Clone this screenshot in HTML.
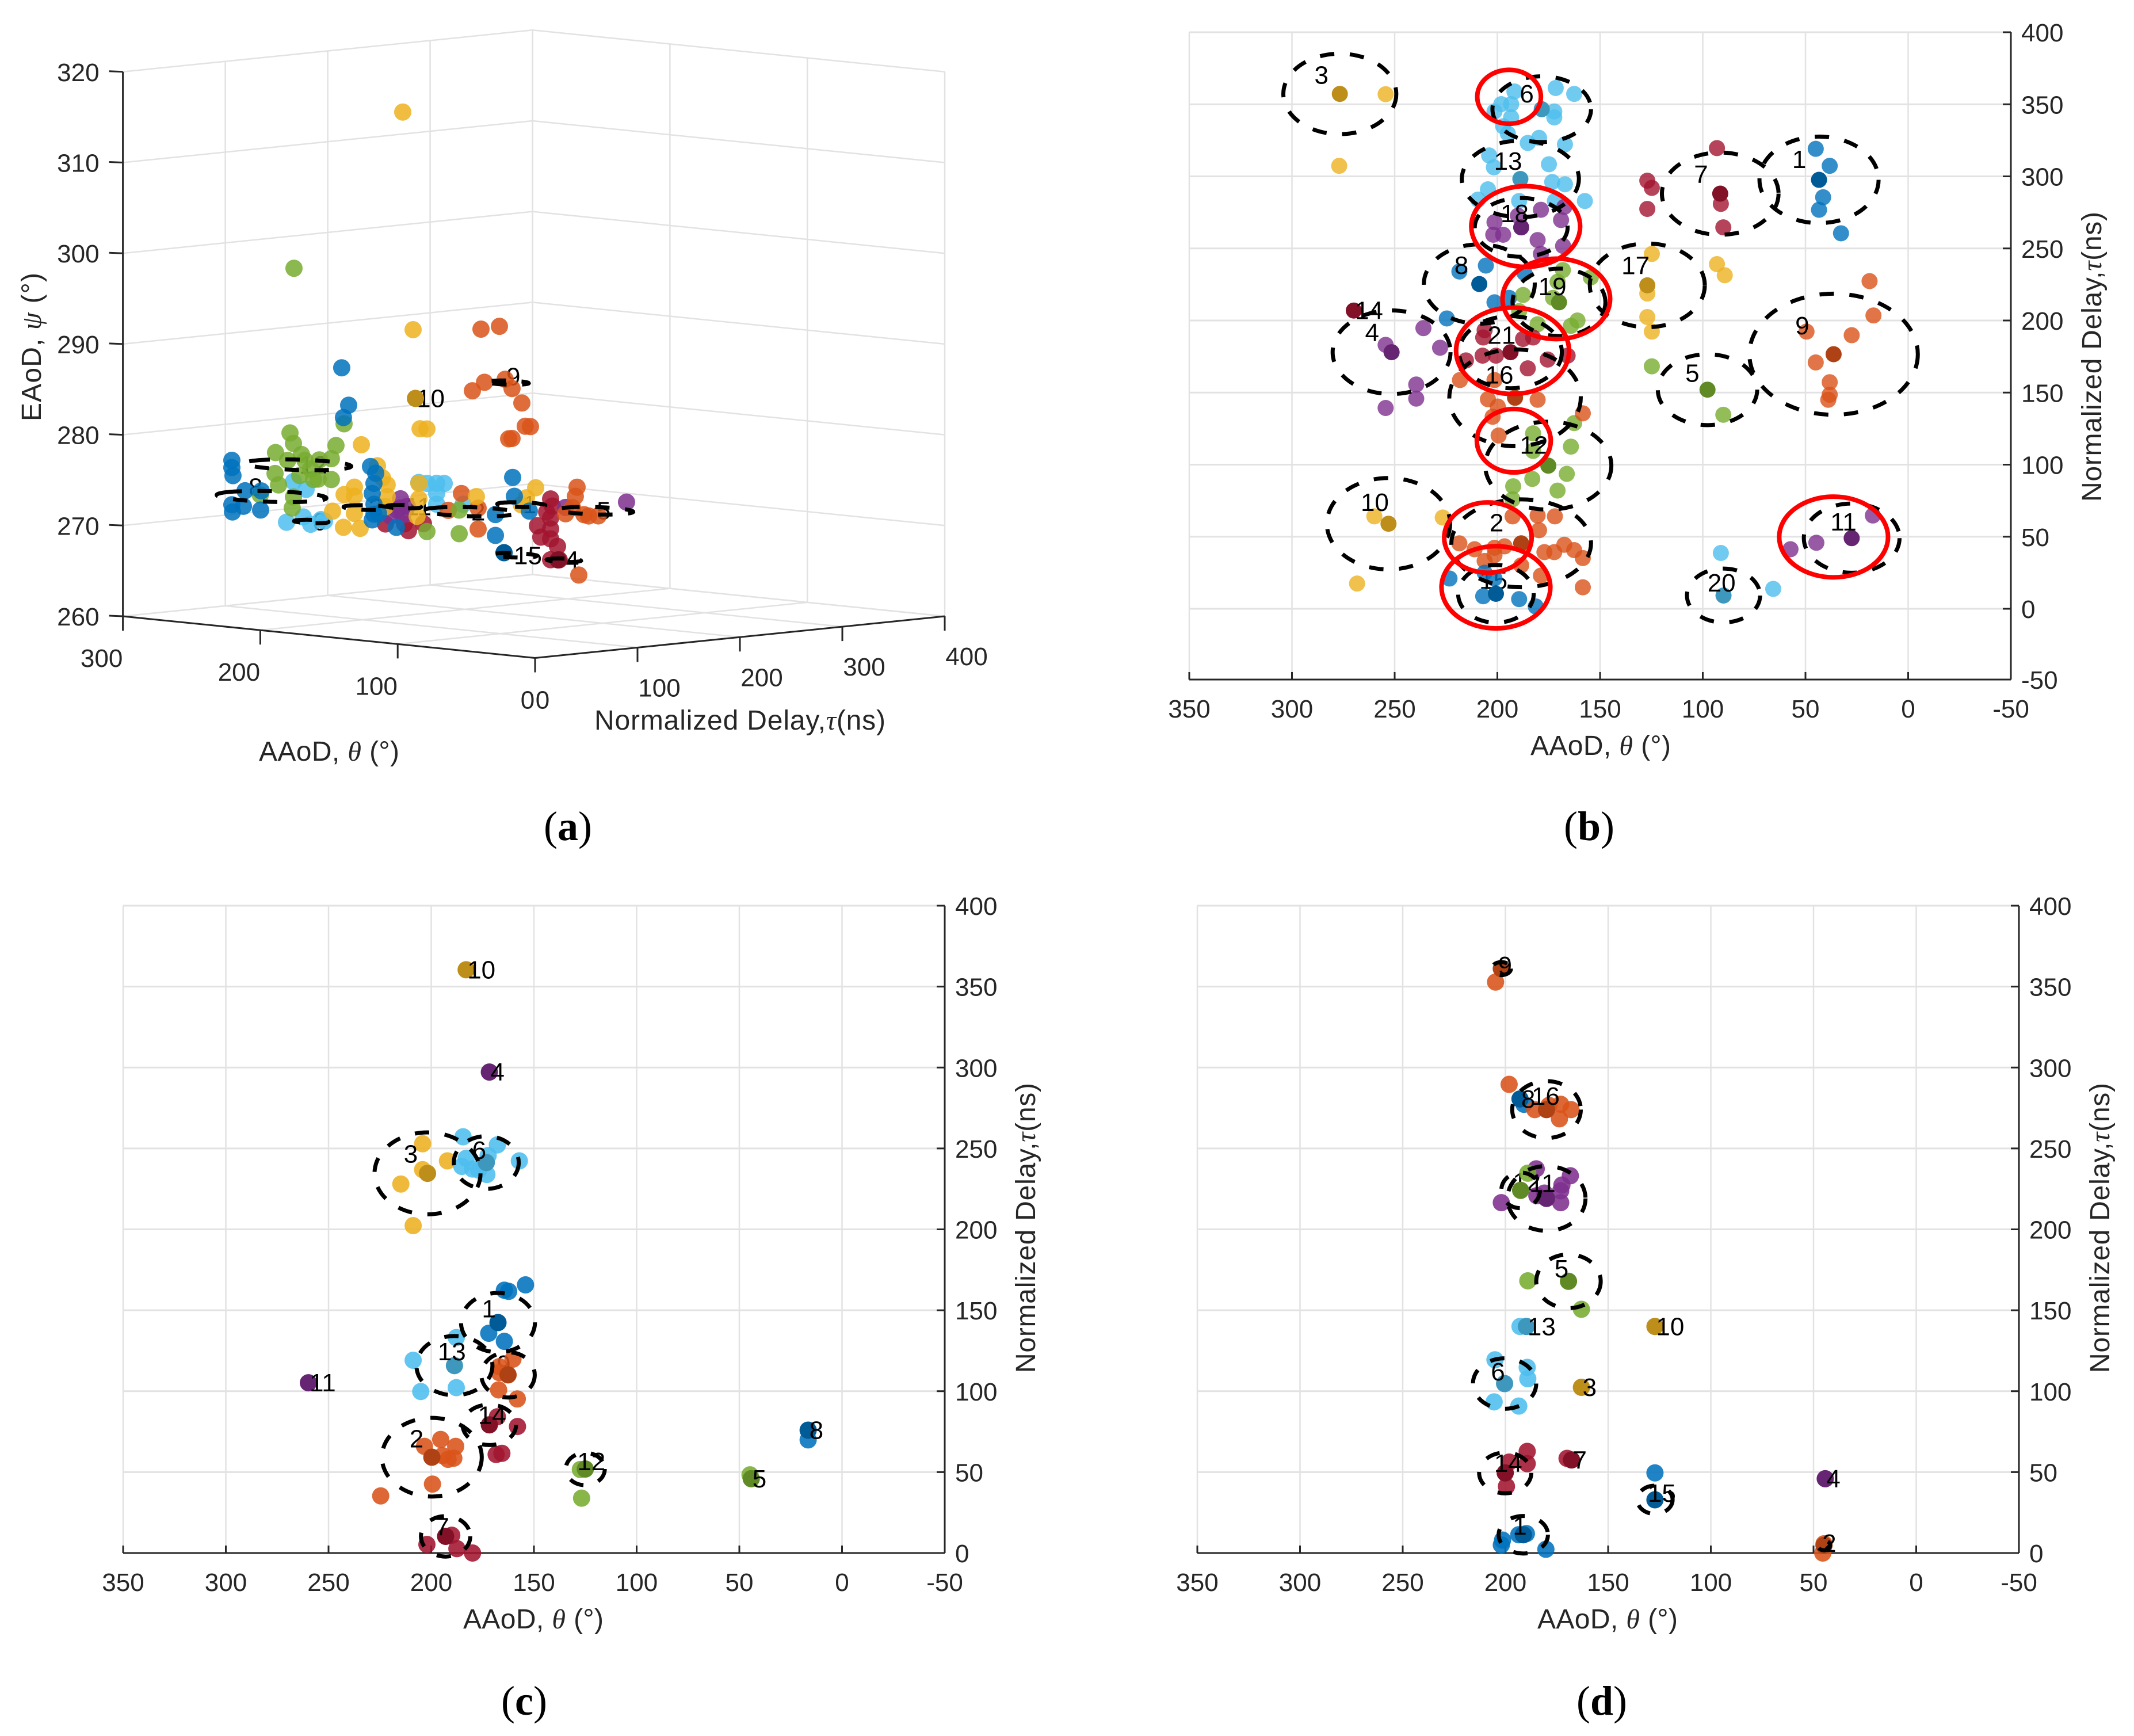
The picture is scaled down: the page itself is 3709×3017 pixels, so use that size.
<!DOCTYPE html>
<html lang="en">
<head>
<meta charset="utf-8">
<title>AAoD, EAoD and normalized delay clusters</title>
<style>
html,body{margin:0;padding:0;background:#fff;}
svg{display:block;font-family:"Liberation Sans",Arial,sans-serif;}
.cap{font-family:"Liberation Serif",serif;font-size:72px;fill:#000;text-anchor:middle;}
</style>
</head>
<body>
<svg id="chart" xmlns="http://www.w3.org/2000/svg" width="3709" height="3017" viewBox="0 0 3709 3017">
<rect x="0" y="0" width="3709" height="3017" fill="#fff"/>
<text class="cap" x="987" y="1460">(<tspan font-weight="bold">a</tspan>)</text>
<text class="cap" x="2762" y="1460">(<tspan font-weight="bold">b</tspan>)</text>
<text class="cap" x="911" y="2980">(<tspan font-weight="bold">c</tspan>)</text>
<text class="cap" x="2784" y="2980">(<tspan font-weight="bold">d</tspan>)</text>
</svg>
<script>
/* ---------- shared tick labels ---------- */
const thetaTicks = [350,300,250,200,150,100,50,0,-50];
const tauTicksB = [400,350,300,250,200,150,100,50,0,-50];
const tauTicksCD = [400,350,300,250,200,150,100,50,0];
const aThetaTicks = [300,200,100,0];
const aTauTicks = [0,100,200,300,400];
const aPsiTicks = [260,270,280,290,300,310,320];

/* ---------- panel (b) ---------- */
const bIds = [1,2,3,4,5,6,7,8,9,10,11,12,13,14,15,16,17,18,19,20,21];
const bLabelBehind = [15];
const bCenterTheta = [43.4,188.4,276.7,251.5,97.7,178.4,91.5,208.8,36.3,253,27.5,175.2,188.8,269.9,200.7,191.4,127,188.4,170,89.9,193.6];
const bCenterTau = [297.6,45.4,357.2,178,152,346.6,288,225.3,176.6,59,49,99.3,298.2,206.9,10.4,146.4,224.4,264.6,212.6,9.2,178];
const bRadTheta = [29,34,27.5,28.7,24.2,24,28.4,27,41,30,23.3,30.7,28.5,0,18.4,32,28,22.6,22.6,17.8,25];
const bRadTau = [30,30.5,27.9,29,24.6,22.8,28.5,27.5,42,31.7,24,30.5,26.5,0,20,33.6,29,20.4,23.4,18.7,25];
const bMemberTheta = [
 [45,38.2,41.4,43.4,32.7],
 [192.6,180.4,172,179.7,218.5,211.1,201.4,196.5,167.4,177.1,172.3,162.6,158.4,201.4,206.2,188.4,178.8,158.4],
 [254.4,277],
 [236,254.4,227.9,239.5,239.5,254.4],
 [124.8,90],
 [171.6,162.6,191.7,198.1,193.3,201.4,172.3,172.3,193.3,197.2,194.9,179.7,185.2,167.1],
 [93.1,127,124.8,127,91.2,90],
 [218.5,205.6,186.8,201.4,194.3,224.6],
 [18.8,16.9,49.5,27.5,45,38.2,38.2,38.9],
 [259.9,226.6,268.3],
 [17.2,44.7,57.3],
 [162.6,182.6,164.2,182.6,166.2,183,192.3,170.7,192.6],
 [204,201.7,174.9,173.3,167.1,204.6,209.4,172,189.4,157.4],
 [],
 [223.3,206.2,201.4,206.9,189.4,181.3],
 [218.2,201.4,204.6,180.4,199.8,202.3,158.4,199.4],
 [124.8,93.1,89.3,127,127,124.8],
 [178.8,167.4,190,201.4,169,202,197.2,180.4,168,178.8],
 [168.1,170.7,154.5,187.5,172.9,189.4,180.4,161,164.2],
 [91.2,65.7],
 [206.2,206.9,187.5,182.6,215.3,207.2,200.7,185.2,175.5,165.8]
];
const bMemberTau = [
 [319.1,307.3,285.5,276.8,260.5],
 [64.1,64.7,64.1,54.5,45.4,41.3,42.3,43.3,44.4,39.3,39.3,40.7,35.2,37.2,33.2,30.1,23,14.9],
 [357,307.3],
 [194.7,183.1,181.1,155.6,145.8,139.3],
 [168.2,134.6],
 [361.3,357.2,358.9,350.1,350.1,345,345,340.9,340.9,334.8,329.7,326.7,323.2,322.2],
 [319.6,297,292,277.4,280.9,264.6],
 [234,238.1,233,212.6,215.7,201.4],
 [227.3,203.5,192.3,189.8,170.9,157.2,148.5,145],
 [64.1,63.3,17.5],
 [64.7,45.8,41.3],
 [128.8,121.7,112.5,109.5,93.6,90.1,85,82,75.9],
 [314.5,306.3,308.4,296.1,294.5,291,283.9,282.9,282.9,282.9],
 [],
 [21,25,21,8.7,6.7,1.6],
 [158.7,158.7,145.4,145,140.3,133.2,135.6,120.2],
 [246.2,239.1,231.4,218.7,202.4,192.3],
 [276.8,278.8,272.7,268.2,269.7,259.5,259.5,255.8,251.7,246.2],
 [235,226.9,229.9,217.7,215.7,206.5,197.4,200,196.3],
 [38.7,13.8],
 [193.3,188.2,187.2,188.2,172.3,175.6,175.6,166.8,172.9,175.6]
];
const bRedTheta = [194.3,186.2,171.3,192.6,192,204.6,200.7,36.3];
const bRedTau = [355.2,265.2,215,179,116.6,49.4,14.9,49.8];
const bRedRadTheta = [15.5,26.5,26.2,27.5,18,21.3,26.5,26.5];
const bRedRadTau = [18.7,28,27.9,30,22,24.4,28.5,28];

/* ---------- panel (c) ---------- */
const cIds = [1,2,3,4,5,6,7,8,9,10,11,12,13,14];
const cLabelBehind = [9];
const cCenterTheta = [167.5,199.7,201.8,171.7,44.2,173.2,193,16.5,162.6,183,259.8,125,188.7,171.7];
const cCenterTau = [142.4,59.2,234.6,297.2,45.9,241.3,10.3,75.9,110.1,360.4,105.2,51.9,115.8,79.2];
const cRadTheta = [18,24.3,25.8,0,0,15.8,12,0,13,0,0,9.5,18.5,13];
const cRadTau = [18.3,24.3,25.3,0,0,16.3,12.5,0,14,0,0,10,18.3,12.5];
const cMemberTheta = [
 [154.1,164.4,162.3,172,164.4],
 [195.4,203.3,188.1,194.5,189,191.8,199.4,224.6],
 [204.2,192.1,204.2,214.8,208.8],
 [],
 [44.8],
 [184.5,167.8,172.3,157.1,172.9,183,185.1,179.9,176.9],
 [190,202.1,187.5,179.9],
 [16.5],
 [166.9,166.9,160.2,167.2,158.1],
 [],
 [],
 [127.4,126.8],
 [187.8,208.8,187.8,205.1],
 [167.8,158,168.4,165.6]
];
const cMemberTau = [
 [165.7,162.4,161.7,135.8,130.8],
 [70.2,65.9,65.9,60.2,58.6,57.9,42.6,35.3],
 [252.9,242.3,236.9,228,202.3],
 [],
 [48.3],
 [257.2,252.2,245.6,242.3,233.9,243.9,238.9,237.3,236.6],
 [11,5.3,2.7,0],
 [69.9],
 [115.1,111.5,119.8,100.8,95.2],
 [],
 [],
 [51.6,33.9],
 [133.1,119.1,102.2,99.8],
 [84.2,78.2,60.9,61.6]
];

/* ---------- panel (d) ---------- */
const dIds = [1,2,3,4,5,6,7,8,9,10,11,12,13,14,15,16];
const dLabelBehind = [12];
const dCenterTheta = [191.3,44.9,163,44.3,169.3,200.4,167.8,192.9,202,127.2,180,192.6,189.8,200.1,127.2,180];
const dCenterTau = [11.3,4.7,102.4,45.9,167.9,104.7,57.5,280.6,361.1,140,219.1,224.1,140,49.5,32.9,274];
const dRadTheta = [12,3,0,0,15.7,15.4,0,0,4.7,0,19,9.4,0,12.7,8.6,16.7];
const dRadTau = [11.6,3,0,0,16.6,15.6,0,0,4,0,20,11,0,12.6,8.7,17.6];
const dMemberTheta = [
 [193.5,189.8,201.4,202,180.3],
 [45.5,44.9],
 [],
 [],
 [189.1,163],
 [205.1,189.4,189.1,205.5,193.5],
 [170],
 [191],
 [204.8],
 [],
 [185,168.4,172.5,173.1,173.1,184.7,202,181],
 [189.1],
 [192.9],
 [189.4,189.4,198.2,199.5],
 [127.2],
 [198.2,173.1,178.8,185.7,173.7,168.1]
];
const dMemberTau = [
 [11.3,12,8,5,2.3],
 [-1,5.7],
 [],
 [],
 [168.2,150.6],
 [119.4,114.7,107.7,93.4,90.8],
 [58.5],
 [277.3],
 [352.8],
 [],
 [237.4,233.1,227.4,223.8,216.5,220.8,216.5,222.4],
 [234.7],
 [140],
 [62.8,55.2,56.2,41.2],
 [49.5],
 [289.6,277.3,276.6,274,268.3,274]
];

/* ---------- panel (a): one array per colour, drawn back to front ---------- */
const aSeriesNames = ['dark-red','purple','light-blue','orange','yellow','green','blue'];
const aSeriesColor = [6,3,5,1,2,4,0];
const aTheta = [
 [200,200,200,200,200,200,200,200,200,200,200,200,200,200,200],
 [200,200,200,200,200,200,200,200],
 [200,200,200,200,200,200,200,200,200,200,200,200,200,200],
 [200,200,200,200,200,200,200,200,200,200,200,200,200,200,200,200,200,200,200,200,200,200,200],
 [200,200,200,200,200,200,200,200,200,200,200,200,200,200,200,200,200,200,200,200,200,200,200,200],
 [200,200,200,200,200,200,200,200,200,200,200,200,200,200,200,200,200,200,200,200,200,200,200,200],
 [250,250,250,250,250,250,250,250,250,200,200,200,200,200,200,200,200,200,200,200,200,200,200,200,200,200,200]
];
const aTau = [
 [283.5,283.5,270.6,283.5,273.9,283.5,290.2,291.9,283.5,144.7,159.3,279.6,285.2,122.2,140.8],
 [357.6,136.9,136.9,127.3,143.6,298.1,139.1,133.5],
 [25.6,41.9,62.7,32.4,44.7,154.8,172.2,179.6,172.2,172.2,198.1,59.3,49.2,163],
 [215.5,233.5,207.1,218.9,239.1,245.8,255.4,258.7,242.5,263.8,245.8,196.4,212.7,212.7,309.3,307.6,304.8,320.6,298.1,311,183.5,330,316],
 [139.1,149.2,98.7,156,162.7,114.4,123.9,91.9,81.8,91.9,123.9,70.6,91.9,153.1,154.8,154.8,81.2,97.5,211,268.9,254.8,259.9,119.4,122.2],
 [29,32.4,14.9,40.2,57.6,69.4,73.9,81.8,14.4,38.5,56.5,69.4,17.8,0,32.4,31.2,162.7,194.2,194.2,32.9,26.7,49.2,43.6,52],
 [39.3,39.3,40.4,39.3,39.9,50.6,52.2,68,67.4,86.3,81.2,107.6,112.7,111,109.3,111,111,109.3,132.9,246.4,248.1,262.7,229.6,229.6,238,79.5,115.5]
];
const aPsi = [
 [271.2,269.1,268.4,267.9,267.1,266.8,265.9,264.4,264.5,269.3,269.9,269.8,270.4,270.3,270.1],
 [270,272.9,271.9,271.1,272,270.1,271.1,271.7],
 [271.6,272,271.3,276,275,274.5,274.2,274.1,273.1,271.9,271.6,271.5,271.1,274.3],
 [290.7,290.8,284,284.8,284.9,283.8,282.1,279.5,278.3,279.4,278.3,272.8,271,268.7,272.2,271.2,270,268.9,269.4,262.5,271.1,268.8,269.1],
 [315.5,291.4,279.3,280.4,280.3,276.8,274.6,274.7,274,273.7,273.3,272.3,271.8,270.8,274.4,272.7,270.4,270.1,272.3,272.6,270.9,271.6,275.4,272.2],
 [281.4,280.2,279.4,278.9,278.1,278.1,279.5,281.8,277.1,276.6,276,275.8,275.8,274.9,274.3,273.1,269,271,268.4,299.5,278.4,277.2,278.2,276],
 [277.5,276.7,275.8,272.6,271.8,272.3,274,273.8,271.7,283.8,282.5,276.8,276,274.9,273.8,272.6,271.5,270.9,269.8,274,271.9,270.1,270.1,267.8,265.8,288,271.5]
];
const aCentroidColor = [2,0,6];
const aCentroidTheta = [200,200,200];
const aCentroidTau = [151.5,238,290.8];
const aCentroidPsi = [283.8,265.8,264.4];
const aRingLabel = ['12','8','6','3','11','2','1','5','9','15','4','10'];
const aRingTheta = [200,200,200,200,200,200,200,200,200,200,200,200];
const aRingTau = [36.9,11,49.8,104.8,140.2,204.8,254.8,327.3,242,248,296.4,151.5];
const aRingPsi = [277.8,274.6,271.4,272.3,272,270.7,270.9,269.4,284.5,265.4,264.3,283.8];
const aRingRad = [31,32,10,14,10,27,14,22,12,13,10,0];
const aLabelTau = [36.9,-12.6,49.8,104.8,140.2,204.8,254.8,327.3,239.1,246.4,296.4,151.5];
const aLabelPsi = [277.8,275.9,271.4,272.3,272,270.7,270.9,269.4,285.2,265.4,264.3,283.8];

/* ---------- drawing helpers ---------- */
const palette = ['#0072BD','#D95319','#EDB120','#7E2F8E','#77AC30','#4DBEEE','#A2142F'];
const centroidPalette = ['#005B97','#AE4214','#BE8E1A','#652572','#5F8A26','#3E98BE','#821026'];
const svg = document.getElementById('chart');
const NS = 'http://www.w3.org/2000/svg';
const gridColor = '#e2e2e2';
const axisColor = '#262626';
const tickFont = 44;
const titleFont = 48;

function mk(tag, attrs, parent){
  const e = document.createElementNS(NS, tag);
  for (const k in attrs) e.setAttribute(k, attrs[k]);
  parent.appendChild(e);
  return e;
}
function line(parent, x1, y1, x2, y2, color, w, name){
  const l = mk('line', {x1:x1, y1:y1, x2:x2, y2:y2, stroke:color, 'stroke-width':w}, parent);
  
  
  return l;
}
function txt(parent, x, y, s, size, fill, anchor, name){
  const t = mk('text', {x:x, y:y, 'font-size':size, fill:fill, 'text-anchor':anchor}, parent);
  t.textContent = s;
  
  
  return t;
}
function mathLabel(parent, x, y, before, sym, after, width, rotate, name){
  const t = mk('text', {x:x, y:y, 'font-size':titleFont, fill:axisColor, 'text-anchor':'middle', textLength:width, lengthAdjust:'spacing'}, parent);
  if (rotate) t.setAttribute('transform', 'rotate(-90 ' + x + ' ' + y + ')');
  
  
  const a = mk('tspan', {}, t); a.textContent = before;
  const b = mk('tspan', {'font-family':'"Liberation Serif",serif', 'font-style':'italic'}, t); b.textContent = sym;
  const c = mk('tspan', {}, t); c.textContent = after;
  return t;
}

/* ---------- 2D panels ---------- */
function drawPanel(cfg){
  const g = mk('g', {}, svg);
  
  
  const xS = v => cfg.left + (350 - v) * (cfg.right - cfg.left) / 400;
  const yS = v => Math.min(cfg.axisY, cfg.top + (400 - v) * cfg.tauScale);
  const unit = (cfg.right - cfg.left) / 400;

  cfg.tauTicks.forEach(v => {
    if (v !== cfg.tauTicks[cfg.tauTicks.length-1]) line(g, cfg.left, yS(v), cfg.right, yS(v), gridColor, 3, 'tau-gridline-' + v);
  });
  thetaTicks.forEach(v => {
    if (v !== -50) line(g, xS(v), cfg.top, xS(v), cfg.axisY, gridColor, 2.5, 'theta-gridline-' + v);
  });
  line(g, cfg.left, cfg.axisY, cfg.right, cfg.axisY, axisColor, 3, 'x-axis-line');
  line(g, cfg.right, cfg.top, cfg.right, cfg.axisY, axisColor, 3, 'y-axis-line');
  thetaTicks.forEach(v => {
    line(g, xS(v), cfg.axisY, xS(v), cfg.axisY - 13, axisColor, 3, 'theta-tick-' + v);
    txt(g, xS(v), cfg.axisY + 66, String(v), tickFont, axisColor, 'middle', 'theta-tick-label-' + v);
  });
  cfg.tauTicks.forEach(v => {
    line(g, cfg.right, yS(v), cfg.right - 14, yS(v), axisColor, 3, 'tau-tick-' + v);
    txt(g, cfg.right + 18, yS(v) + 16, String(v), tickFont, axisColor, 'start', 'tau-tick-label-' + v);
  });
  mathLabel(g, cfg.xLabelX, cfg.xLabelY, 'AAoD, ', '\u03B8', ' (\u00B0)', 244, false, 'x-axis-title');
  mathLabel(g, cfg.yLabelX, cfg.yLabelY, 'Normalized Delay,', '\u03C4', '(ns)', 504, true, 'y-axis-title');

  const labelOf = (id, i) => {
    const rx = cfg.radTheta[i] * unit, ry = cfg.radTau[i] * cfg.tauScale;
    txt(g, xS(cfg.centerTheta[i]) - 0.47 * rx + 2, yS(cfg.centerTau[i]) - 0.47 * ry + 15, String(id), 44, '#000', 'start', 'cluster-' + id + '-label');
  };
  cfg.ids.forEach((id, i) => { if (cfg.behind.indexOf(id) >= 0) labelOf(id, i); });

  cfg.ids.forEach((id, i) => {
    const col = (id - 1) % 7;
    const ths = cfg.memberTheta[i], tas = cfg.memberTau[i];
    ths.forEach((th, j) => {
      const c = mk('circle', {cx:xS(th), cy:yS(tas[j]), r:cfg.r, fill:palette[col], 'fill-opacity':cfg.alpha}, g);
      
      
    });
    const c0 = mk('circle', {cx:xS(cfg.centerTheta[i]), cy:yS(cfg.centerTau[i]), r:cfg.r, fill:centroidPalette[col]}, g);
    
    
  });
  cfg.ids.forEach((id, i) => {
    const rx = cfg.radTheta[i] * unit, ry = cfg.radTau[i] * cfg.tauScale;
    if (rx > 0) {
      const e = mk('ellipse', {cx:xS(cfg.centerTheta[i]), cy:yS(cfg.centerTau[i]), rx:rx, ry:ry, fill:'none', stroke:'#000', 'stroke-width':7, 'stroke-dasharray':'25 27'}, g);
      
      
    }
    if (cfg.behind.indexOf(id) < 0) labelOf(id, i);
  });
  if (cfg.redTheta) {
    cfg.redTheta.forEach((th, i) => {
      const e = mk('ellipse', {cx:xS(th), cy:yS(cfg.redTau[i]), rx:cfg.redRadTheta[i] * unit, ry:cfg.redRadTau[i] * cfg.tauScale, fill:'none', stroke:'#ff0000', 'stroke-width':8}, g);
      
      
    });
  }
}

drawPanel({key:'b', left:2067, right:3495, top:56, axisY:1181, tauScale:2.505, tauTicks:tauTicksB, r:14, alpha:0.8, behind:bLabelBehind,
  xLabelX:2782, xLabelY:1312, yLabelX:3652, yLabelY:620,
  ids:bIds, centerTheta:bCenterTheta, centerTau:bCenterTau, radTheta:bRadTheta, radTau:bRadTau,
  memberTheta:bMemberTheta, memberTau:bMemberTau,
  redTheta:bRedTheta, redTau:bRedTau, redRadTheta:bRedRadTheta, redRadTau:bRedRadTau});
drawPanel({key:'c', left:214, right:1642, top:1574, axisY:2699, tauScale:2.8125, tauTicks:tauTicksCD, r:15, alpha:0.88, behind:cLabelBehind,
  xLabelX:927, xLabelY:2830, yLabelX:1799, yLabelY:2134,
  ids:cIds, centerTheta:cCenterTheta, centerTau:cCenterTau, radTheta:cRadTheta, radTau:cRadTau,
  memberTheta:cMemberTheta, memberTau:cMemberTau});
drawPanel({key:'d', left:2081, right:3509, top:1574, axisY:2699, tauScale:2.8125, tauTicks:tauTicksCD, r:15, alpha:0.88, behind:dLabelBehind,
  xLabelX:2794, xLabelY:2830, yLabelX:3666, yLabelY:2134,
  ids:dIds, centerTheta:dCenterTheta, centerTau:dCenterTau, radTheta:dRadTheta, radTau:dRadTau,
  memberTheta:dMemberTheta, memberTau:dMemberTau});

/* ---------- 3D panel (a) ---------- */
function projX(th, ta){ return 930 - 2.388 * th + 1.78 * ta; }
function projY(th, ta, ps){ return 1143.5 - 0.2417 * th - 0.18125 * ta - 15.77 * (ps - 260); }
(function(){
  const g = mk('g', {}, svg);
  
  
  const seg = (t1,a1,p1,t2,a2,p2,col,w,name) => line(g, projX(t1,a1), projY(t1,a1,p1), projX(t2,a2), projY(t2,a2,p2), col, w, name);

  aThetaTicks.forEach(v => seg(v,0,260,v,400,260,gridColor,2.5,'floor-gridline-theta-' + v));
  aTauTicks.forEach(v => seg(0,v,260,300,v,260,gridColor,2.5,'floor-gridline-tau-' + v));
  aPsiTicks.forEach(v => {
    seg(300,0,v,300,400,v,gridColor,2.5,'left-wall-gridline-' + v);
    seg(300,400,v,0,400,v,gridColor,2.5,'right-wall-gridline-' + v);
  });
  aTauTicks.forEach(v => seg(300,v,260,300,v,320,gridColor,2.5,'left-wall-vertical-' + v));
  aThetaTicks.forEach(v => seg(v,400,260,v,400,320,gridColor,2.5,'right-wall-vertical-' + v));

  seg(300,0,260,300,0,320,axisColor,3,'z-axis-line');
  seg(300,0,260,0,0,260,axisColor,3,'theta-axis-line');
  seg(0,0,260,0,400,260,axisColor,3,'tau-axis-line');

  aPsiTicks.forEach(v => {
    const x = projX(300,0), y = projY(300,0,v);
    line(g, x, y, x - 24, y - 1, axisColor, 3, 'psi-tick-' + v);
    txt(g, x - 41, y + 16, String(v), tickFont, axisColor, 'end', 'psi-tick-label-' + v);
  });
  aThetaTicks.forEach(v => {
    const x = projX(v,0), y = projY(v,0,260);
    line(g, x, y, x, y + 25, axisColor, 3, 'theta-3d-tick-' + v);
    const lx = v === 0 ? x - 13 : x - 37;
    txt(g, lx, y + 88, String(v), tickFont, axisColor, 'middle', 'theta-3d-tick-label-' + v);
  });
  aTauTicks.forEach(v => {
    const x = projX(0,v), y = projY(0,v,260);
    line(g, x, y, x, y + 25, axisColor, 3, 'tau-3d-tick-' + v);
    const lx = v === 0 ? x + 13 : x + 38;
    txt(g, lx, y + (v === 0 ? 88 : 85), String(v), tickFont, axisColor, 'middle', 'tau-3d-tick-label-' + v);
  });
  mathLabel(g, 71, 603, 'EAoD, ', '\u03C8', ' (\u00B0)', 258, true, 'z-axis-title');
  mathLabel(g, 572, 1322, 'AAoD, ', '\u03B8', ' (\u00B0)', 244, false, 'theta-axis-title');
  mathLabel(g, 1286, 1268, 'Normalized Delay,', '\u03C4', '(ns)', 506, false, 'tau-axis-title');

  aRingLabel.forEach((s, i) => {
    txt(g, projX(aRingTheta[i],aLabelTau[i]) + 2, projY(aRingTheta[i],aLabelTau[i],aLabelPsi[i]) + 15, s, 44, '#000', 'start', 'cluster-' + s + '-label');
  });
  aSeriesNames.forEach((nm, s) => {
    aTheta[s].forEach((th, j) => {
      const c = mk('circle', {cx:projX(th,aTau[s][j]), cy:projY(th,aTau[s][j],aPsi[s][j]), r:15, fill:palette[aSeriesColor[s]], 'fill-opacity':0.85}, g);
      
      
    });
  });
  aCentroidTau.forEach((ta, i) => {
    const c = mk('circle', {cx:projX(aCentroidTheta[i],ta), cy:projY(aCentroidTheta[i],ta,aCentroidPsi[i]), r:15, fill:centroidPalette[aCentroidColor[i]]}, g);
    
    
  });
  aRingRad.forEach((r, i) => {
    if (r <= 0) return;
    let d = '';
    for (let k = 0; k <= 72; k++) {
      const t = k / 72 * 2 * Math.PI;
      const th = aRingTheta[i] + r * Math.cos(t), ta = aRingTau[i] + r * Math.sin(t);
      d += (k ? 'L' : 'M') + projX(th,ta).toFixed(1) + ' ' + projY(th,ta,aRingPsi[i]).toFixed(1);
    }
    const p = mk('path', {d:d, fill:'none', stroke:'#000', 'stroke-width':7, 'stroke-dasharray':'25 27'}, g);
    
    
  });
})();
</script>
</body>
</html>
